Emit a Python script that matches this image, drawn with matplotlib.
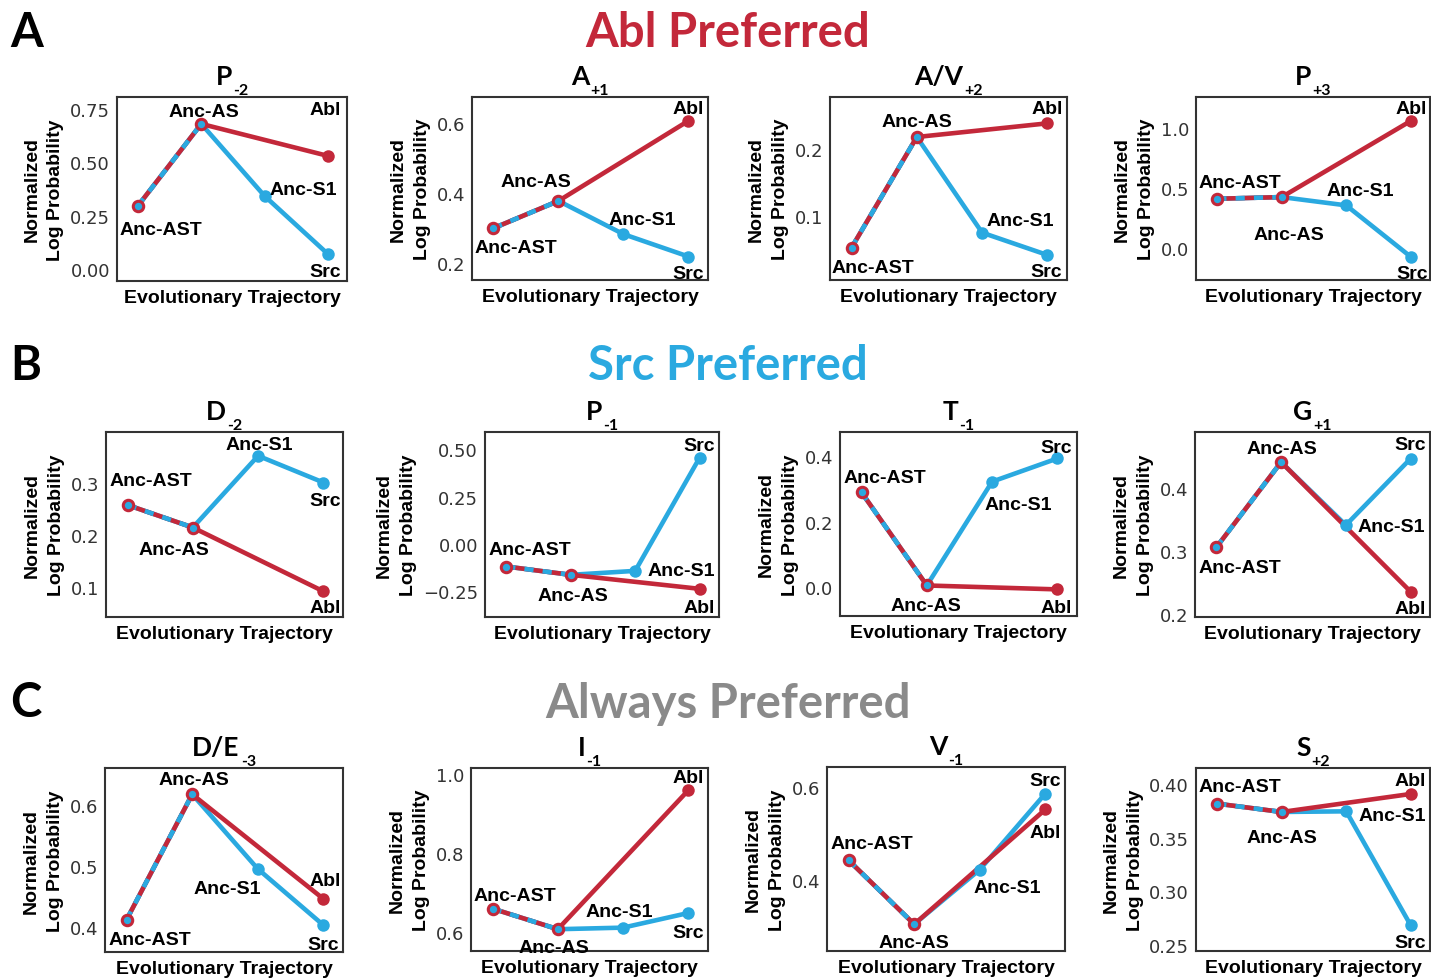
import matplotlib
matplotlib.use('Agg')
import matplotlib.pyplot as plt
from matplotlib.transforms import IdentityTransform

W, H, DPI = 1431, 979, 100

# ---------------- data ----------------
titles = ['P', 'A', 'A/V', 'P', 'D', 'P', 'T', 'G', 'D/E', 'I', 'V', 'S']
subscripts = ['-2', '+1', '+2', '+3', '-2', '-1', '-1', '+1', '-3', '-1', '-1', '+2']
node_names = ['Anc-AST', 'Anc-AS', 'Anc-S1', 'Src', 'Abl']
anc_ast = [0.296, 0.298, 0.0525, 0.408, 0.257, -0.120, 0.290, 0.306, 0.412, 0.659, 0.443, 0.3814]
anc_as = [0.680, 0.376, 0.2185, 0.422, 0.214, -0.164, 0.005, 0.4405, 0.617, 0.607, 0.306, 0.3737]
anc_s1 = [0.342, 0.281, 0.075, 0.353, 0.351, -0.143, 0.323, 0.341, 0.495, 0.611, 0.423, 0.3743]
src = [0.070, 0.217, 0.0415, -0.075, 0.300, 0.456, 0.394, 0.446, 0.403, 0.648, 0.586, 0.2686]
abl = [0.530, 0.605, 0.239, 1.056, 0.092, -0.238, -0.007, 0.236, 0.446, 0.958, 0.552, 0.3904]
yticks = [[0, 0.25, 0.5, 0.75], [0.2, 0.4, 0.6], [0.1, 0.2], [0.0, 0.5, 1.0],
          [0.1, 0.2, 0.3], [-0.25, 0.0, 0.25, 0.5], [0.0, 0.2, 0.4], [0.2, 0.3, 0.4],
          [0.4, 0.5, 0.6], [0.6, 0.8, 1.0], [0.4, 0.6], [0.25, 0.30, 0.35, 0.40]]
tick_decimals = [2, 1, 1, 1, 1, 2, 1, 1, 1, 1, 1, 2]
sections = ['Abl Preferred', 'Src Preferred', 'Always Preferred']
panel_letters = ['A', 'B', 'C']

# ---------------- layout ----------------
RED = '#c3283a'
BLUE = '#2aa9e0'
GRAY = '#8a8a8a'
section_colors = [RED, BLUE, GRAY]

# axes boxes in image pixels: left, top, right, bottom
boxes = [(117, 98, 347, 282), (472, 98, 708, 281), (830, 98, 1067, 281), (1196, 98, 1430, 281),
         (106, 433, 343, 618), (485, 433, 719, 618), (840, 433, 1077, 617), (1195, 433, 1430, 618),
         (105, 769, 343, 953), (471, 769, 708, 952), (827, 768, 1065, 952), (1196, 769, 1430, 952)]
ylims = [(-0.056, 0.806), (0.15, 0.673), (0.004, 0.2785), (-0.269, 1.256),
         (0.043, 0.3965), (-0.387, 0.5915), (-0.0885, 0.475), (0.196, 0.488),
         (0.359, 0.66), (0.552, 1.014), (0.2486, 0.643), (0.2447, 0.4145)]
# label offsets in pixels (dx, dy up) for AST, AS, S1, Src, Abl ; baseline-anchored
label_offsets = [
    [(23, -28), (3, 8), (39, 2), (-3, -22), (-3, 42)],
    [(22, -24), (-23, 15), (19, 10), (0, -21), (0, 8)],
    [(21, -24), (0, 11), (38, 8), (-1, -21), (0, 10)],
    [(23, 12), (7, -42), (14, 10), (2, -21), (1, 8)],
    [(23, 20), (-19, -26), (1, 7), (2, -22), (2, -21)],
    [(24, 13), (2, -25), (46, -4), (0, 8), (0, -23)],
    [(23, 10), (-1, -25), (26, -27), (-1, 6), (-1, -23)],
    [(24, -25), (1, 9), (45, -6), (0, 10), (0, -21)],
    [(23, -24), (2, 10), (-31, -24), (0, -24), (2, 14)],
    [(22, 9), (-4, -23), (-4, 12), (0, -24), (0, 8)],
    [(23, 12), (0, -23), (27, -22), (0, 9), (0, -28)],
    [(23, 13), (0, -30), (46, -9), (0, -22), (0, 9)],
]
section_baselines = [47, 380, 718]
letter_baselines = [47, 380, 717]

LW = 3.3
BOLD = dict(family='Liberation Sans', weight='bold')
TITLE_FONT = 'Lato'

fig = plt.figure(figsize=(W / DPI, H / DPI), dpi=DPI)
fig.patch.set_facecolor('white')
pix = IdentityTransform()

axes = []
for i in range(12):
    l, t, r, b = boxes[i]
    ax = fig.add_axes([l / W, 1 - b / H, (r - l) / W, (b - t) / H])
    axes.append(ax)
    y = [anc_ast[i], anc_as[i], anc_s1[i], src[i], abl[i]]
    xs = [0, 1, 2, 3, 3]
    # blue trajectory
    ax.plot([0, 1, 2, 3], y[:4], color=BLUE, lw=LW, zorder=2, solid_capstyle='round')
    # red trajectory
    ax.plot([1, 3], [y[1], y[4]], color=RED, lw=LW, zorder=3, solid_capstyle='round')
    ax.plot([0, 1], [y[0], y[1]], color=RED, lw=LW, zorder=3)
    ax.plot([0, 1], [y[0], y[1]], color=BLUE, lw=LW, dashes=(2, 2), zorder=4)
    # markers
    ax.plot([2, 3], [y[2], y[3]], 'o', color=BLUE, ms=9, mew=0, zorder=5)
    ax.plot([3], [y[4]], 'o', color=RED, ms=9, mew=0, zorder=5)
    ax.plot([0, 1], [y[0], y[1]], 'o', mfc=BLUE, mec=RED, ms=7.5, mew=2.2, zorder=6)
    # labels
    for k in range(5):
        dx, dy = label_offsets[i][k]
        ax.annotate(node_names[k], xy=(xs[k], y[k]), xytext=(dx, dy),
                    textcoords='offset pixels', ha='center', va='baseline',
                    fontsize=14, color='black', zorder=7, annotation_clip=False, **BOLD)
    ax.set_xlim(-0.33, 3.3)
    ax.set_ylim(*ylims[i])
    ax.set_xticks([])
    ax.set_yticks(yticks[i])
    d = tick_decimals[i]
    ax.set_yticklabels([f'{v:.{d}f}'.replace('-', '\u2212') for v in yticks[i]],
                       family='DejaVu Sans', fontsize=13, color='#333333')
    ax.tick_params(axis='y', length=0, pad=5)
    for s in ax.spines.values():
        s.set_color('#333333')
        s.set_linewidth(1.5)
    ax.set_ylabel('Normalized\nLog Probability', fontsize=14, labelpad=4,
                  linespacing=1.55, **BOLD)
    ax.set_xlabel('Evolutionary Trajectory', fontsize=14, labelpad=6, **BOLD)

# section titles and panel letters
for r in range(3):
    fig.text(728, H - section_baselines[r], sections[r], transform=pix,
             ha='center', va='baseline', fontsize=34, color=section_colors[r],
             family=TITLE_FONT, weight='bold')
    fig.text(10, H - letter_baselines[r], panel_letters[r], transform=pix,
             ha='left', va='baseline', fontsize=34, color='black',
             family=TITLE_FONT, weight='bold')

# subplot titles with subscripts, centered over each axes
fig.canvas.draw()
renderer = fig.canvas.get_renderer()
for i in range(12):
    l, t, r, b = boxes[i]
    cx = (l + r) / 2
    base = H - (t - 13)
    tm = fig.text(0, base, titles[i], transform=pix, ha='left', va='baseline',
                  fontsize=19, color='black', family=TITLE_FONT, weight='bold')
    ts = fig.text(0, base - 10, subscripts[i], transform=pix, ha='left', va='baseline',
                  fontsize=11.5, color='black', family=TITLE_FONT, weight='bold')
    wm = tm.get_window_extent(renderer).width
    ws = ts.get_window_extent(renderer).width
    gap = 1
    x0 = cx - (wm + gap + ws) / 2
    tm.set_x(x0)
    ts.set_x(x0 + wm + gap)

fig.savefig('out.png', dpi=DPI)
